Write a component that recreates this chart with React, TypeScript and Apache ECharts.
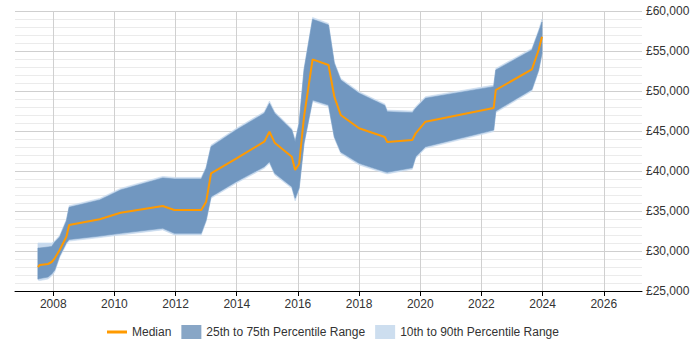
import React, { useEffect, useRef } from "react";
import * as echarts from "echarts";

const years = [
  2007.5, 2007.56, 2007.83, 2007.95, 2008.05, 2008.21, 2008.43, 2008.52, 2009.52, 2010.2,
  2011.58, 2011.96, 2012.84, 2013.0, 2013.16, 2013.98, 2014.9, 2015.07, 2015.24, 2015.8,
  2015.91, 2016.04, 2016.2, 2016.48, 2017.0, 2017.19, 2017.4, 2018.0, 2018.84, 2018.92,
  2019.74, 2019.85, 2020.17, 2022.4, 2022.47, 2023.65, 2023.87, 2023.98,
];
const p90 = [
  31000, 31000, 31000, 31000, 31250, 31950, 33950, 35660, 36575, 37825,
  39325, 39200, 39200, 40540, 43240, 45325, 47410, 48750, 47410, 45325,
  43860, 46160, 52825, 59200, 58450, 53660, 51575, 49910, 48390, 47610,
  47490, 48040, 49290, 50740, 52825, 55325, 57610, 59000,
];
const p75 = [
  30375, 30375, 30500, 30560, 31125, 31750, 33750, 35460, 36375, 37625,
  39125, 39000, 39000, 40340, 43040, 45125, 47210, 48460, 47210, 45125,
  43660, 45960, 52625, 58960, 58250, 53460, 51375, 49710, 48190, 47410,
  47290, 47840, 49090, 50540, 52625, 55125, 57410, 58625,
];
const median = [
  28000, 28250, 28375, 28625, 29090, 30125, 31790, 33250, 33960, 34790,
  35625, 35125, 35125, 36160, 39710, 41560, 43660, 44910, 43540, 41790,
  40125, 40875, 46790, 53960, 53250, 49290, 47000, 45340, 44250, 43625,
  43875, 44710, 46160, 47875, 50125, 52710, 55125, 56790,
];
const p25 = [
  26500, 26560, 26750, 27125, 27625, 29375, 31030, 31440, 31875, 32210,
  32840, 32210, 32210, 33875, 36790, 38660, 40540, 41160, 39710, 38040,
  36590, 37875, 43500, 48875, 48250, 44290, 42375, 40960, 39910, 39840,
  40410, 41790, 43040, 45125, 47500, 50190, 52625, 54710,
];
const p10 = [
  26375, 26300, 26500, 26875, 27375, 29175, 30830, 31240, 31675, 32010,
  32640, 32010, 32010, 33675, 36590, 38460, 40340, 40960, 39510, 37840,
  36250, 37675, 43300, 48675, 48050, 44090, 42175, 40760, 39710, 39640,
  40210, 41590, 42840, 44925, 47300, 49990, 52425, 54510,
];
const xTicks = [2008, 2010, 2012, 2014, 2016, 2018, 2020, 2022, 2024, 2026];
const seriesNames = ["Median", "25th to 75th Percentile Range", "10th to 90th Percentile Range"];

const FONT = "'Liberation Sans', Arial, sans-serif";
const DARK = "#7197c0";
const PALE = "#c8daee";
const ORANGE = "#ff9a00";

function bandSeries(name: string, lo: number[], hi: number[], color: string, z: number) {
  return {
    type: "custom",
    name,
    silent: true,
    clip: true,
    z,
    itemStyle: { color },
    encode: { x: 0, y: 1 },
    data: [[years[0], lo[0]]],
    renderItem: (_params: any, api: any) => {
      const upper = years.map((y, i) => api.coord([y, hi[i]]));
      const lower = years.map((y, i) => api.coord([y, lo[i]])).reverse();
      return {
        type: "polygon",
        shape: { points: upper.concat(lower) },
        style: { fill: color, stroke: color, lineWidth: 0.6 },
      };
    },
  };
}

export default function App() {
  const ref = useRef<HTMLDivElement>(null);
  useEffect(() => {
    document.body.style.margin = "0";
    if (!ref.current) return;
    const chart = echarts.init(ref.current, undefined, { renderer: "svg" });
    chart.setOption({
      animation: false,
      textStyle: { fontFamily: FONT },
      grid: { left: 15, right: 58, top: 11, bottom: 59, containLabel: false },
      legend: {
        left: 102,
        bottom: 6,
        itemWidth: 20,
        itemHeight: 14,
        itemGap: 10,
        textStyle: { fontFamily: FONT, fontSize: 12, color: "#333" },
        data: [
          { name: seriesNames[0], icon: "path://M0,0H20V3H0Z", itemStyle: { color: ORANGE } },
          { name: seriesNames[1], icon: "rect", itemStyle: { color: "#88a6c6" } },
          { name: seriesNames[2], icon: "rect", itemStyle: { color: "#cddeef" } },
        ],
      },
      xAxis: {
        type: "value",
        min: 2006.75,
        max: 2027.25,
        axisLine: { show: true, lineStyle: { color: "#000", width: 1 } },
        axisTick: { show: true, length: 5, lineStyle: { color: "#000" }, customValues: xTicks },
        axisLabel: {
          customValues: xTicks,
          color: "#333",
          fontSize: 12,
          fontFamily: FONT,
          margin: 7,
          formatter: (v: number) => String(Math.round(v)),
        },
        splitLine: { show: true, lineStyle: { color: "#d0d0d0", width: 1 } },
      },
      yAxis: {
        type: "value",
        position: "right",
        min: 25000,
        max: 60000,
        interval: 5000,
        axisLine: { show: false },
        axisTick: { show: false },
        axisLabel: {
          color: "#333",
          fontSize: 12,
          fontFamily: FONT,
          margin: 4,
          formatter: (v: number) => "£" + v.toLocaleString("en-GB"),
        },
        splitLine: { show: true, lineStyle: { color: "#cfcfcf", width: 1 } },
        minorTick: { show: false, splitNumber: 5 },
        minorSplitLine: { show: true, lineStyle: { color: "#ebebeb", width: 1 } },
      },
      series: [
        bandSeries(seriesNames[2], p10, p90, PALE, 2),
        bandSeries(seriesNames[1], p25, p75, DARK, 3),
        {
          type: "line",
          name: seriesNames[0],
          data: years.map((y, i) => [y, median[i]]),
          symbol: "none",
          itemStyle: { color: ORANGE },
          lineStyle: { color: ORANGE, width: 2 },
          z: 5,
        },
      ],
    });
    return () => chart.dispose();
  }, []);
  return <div ref={ref} style={{ width: 700, height: 350 }} />;
}
